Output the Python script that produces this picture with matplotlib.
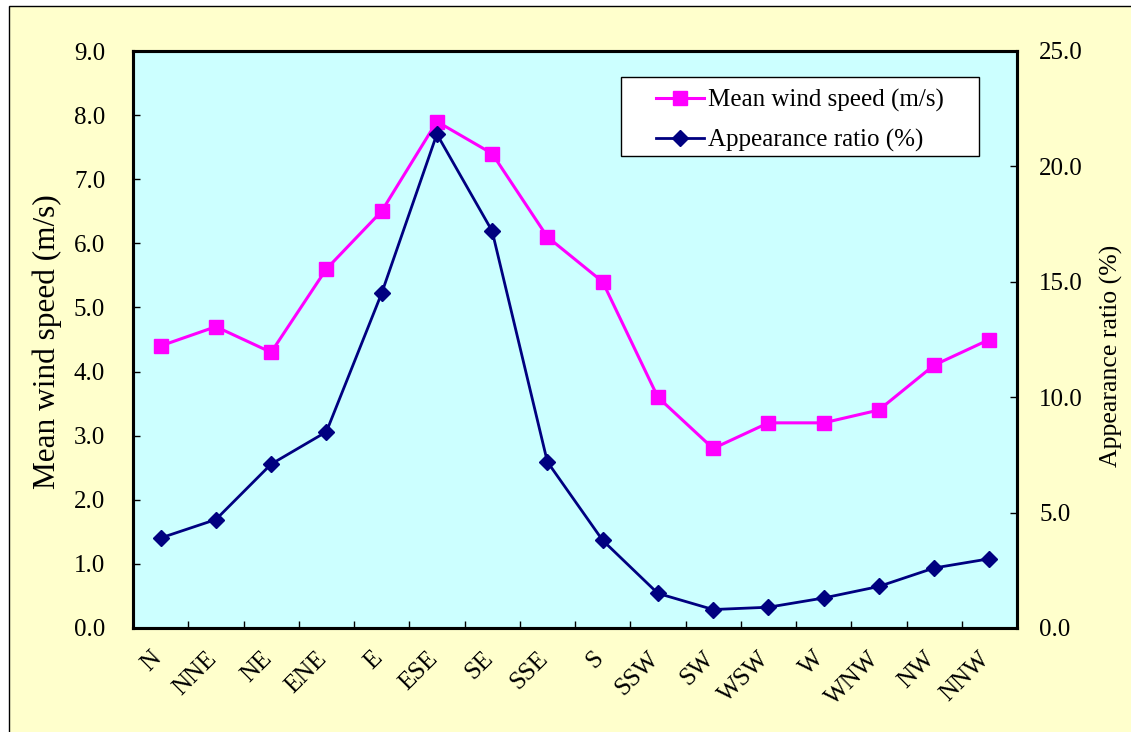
import matplotlib
matplotlib.use("Agg")
import matplotlib.pyplot as plt
from matplotlib.patches import Rectangle
from matplotlib.ticker import FormatStrFormatter, MultipleLocator
import matplotlib.transforms as mtransforms

# Wind direction sectors
directions = ["N", "NNE", "NE", "ENE", "E", "ESE", "SE", "SSE",
              "S", "SSW", "SW", "WSW", "W", "WNW", "NW", "NNW"]

# Mean wind speed per sector (m/s)
mean_speed = [4.4, 4.7, 4.3, 5.6, 6.5, 7.9, 7.4, 6.1,
              5.4, 3.6, 2.8, 3.2, 3.2, 3.4, 4.1, 4.5]

# Frequency of occurrence per sector (%)
appearance = [3.9, 4.7, 7.1, 8.5, 14.5, 21.4, 17.2, 7.2,
              3.8, 1.5, 0.8, 0.9, 1.3, 1.8, 2.6, 3.0]

label_speed = "Mean wind speed (m/s)"
label_ratio = "Appearance ratio (%)"

plt.rcParams["font.family"] = ["Liberation Serif", "DejaVu Serif"]
plt.rcParams["font.size"] = 18

W, H = 1131, 732
fig = plt.figure(figsize=(W / 100, H / 100), dpi=100, facecolor="white")

# Chart area panel with thin border (behind the axes)
fig.patches.append(Rectangle((9 / W, -0.02), 1.05, 1 - 6 / H + 0.02,
                             transform=fig.transFigure, facecolor="#FFFFCC",
                             edgecolor="black", linewidth=1.0, zorder=-5))

left, right, top, bottom = 133, 1017, 51, 628
ax = fig.add_axes([left / W, 1 - bottom / H, (right - left) / W, (bottom - top) / H])
ax.set_facecolor("#CCFFFF")
ax2 = ax.twinx()

x = list(range(len(directions)))

l1, = ax.plot(x, mean_speed, color="#FF00FF", linewidth=2.2, marker="s",
              markersize=10, markerfacecolor="#FF00FF", markeredgecolor="#FF00FF",
              label=label_speed, clip_on=False)
l2, = ax2.plot(x, appearance, color="#000080", linewidth=2.0, marker="D",
               markersize=8, markerfacecolor="#000080", markeredgecolor="#000080",
               label=label_ratio, clip_on=False)

ax.set_xlim(-0.5, len(directions) - 0.5)
ax.set_ylim(0, 9)
ax2.set_ylim(0, 25)

ax.yaxis.set_major_locator(MultipleLocator(1))
ax.yaxis.set_major_formatter(FormatStrFormatter("%.1f"))
ax2.yaxis.set_major_locator(MultipleLocator(5))
ax2.yaxis.set_major_formatter(FormatStrFormatter("%.1f"))

# Category labels at centers, tick marks at sector boundaries
ax.set_xticks(x)
ax.set_xticks([i + 0.5 for i in x[:-1]], minor=True)
ax.tick_params(axis="x", which="major", length=0, pad=14)
ax.tick_params(axis="x", which="minor", direction="in", length=5, width=1)
ax.set_xticklabels(directions, rotation=45, ha="right", va="top")
shift = mtransforms.ScaledTranslation(5 / 100, 0, fig.dpi_scale_trans)
for lab in ax.get_xticklabels():
    lab.set_transform(lab.get_transform() + shift)

ax.tick_params(axis="y", which="major", direction="in", length=5, width=1, pad=20)
ax2.tick_params(axis="y", which="major", direction="in", length=5, width=1, pad=16)

for a in (ax, ax2):
    for s in a.spines.values():
        s.set_linewidth(2.2)
        s.set_color("black")

ax.set_ylabel(label_speed, fontsize=22.5)
ax.yaxis.set_label_coords((62 - left) / (right - left), (bottom - 342) / (bottom - top))
ax2.set_ylabel(label_ratio, fontsize=18.5)
ax2.yaxis.set_label_coords((1100 - left) / (right - left), (bottom - 356) / (bottom - top))

# Legend with white box
lx0, lx1, ly0, ly1 = 621, 979, 77, 156
ax2.add_patch(Rectangle(((lx0 - left) / (right - left), (bottom - ly1) / (bottom - top)),
                        (lx1 - lx0) / (right - left), (ly1 - ly0) / (bottom - top),
                        transform=ax2.transAxes, facecolor="white", edgecolor="black",
                        linewidth=1.0, zorder=4))
leg = ax2.legend(handles=[l1, l2], loc="center",
                 bbox_to_anchor=(((lx0 + lx1) / 2 - left) / (right - left),
                                 (bottom - (ly0 + ly1) / 2 - 4) / (bottom - top)),
                 bbox_transform=ax2.transAxes, frameon=False, fontsize=18,
                 handlelength=1.9, handletextpad=0.15, labelspacing=0.66,
                 borderpad=0.0)
leg.set_zorder(5)

fig.savefig("out.png", dpi=100, facecolor=fig.get_facecolor())
